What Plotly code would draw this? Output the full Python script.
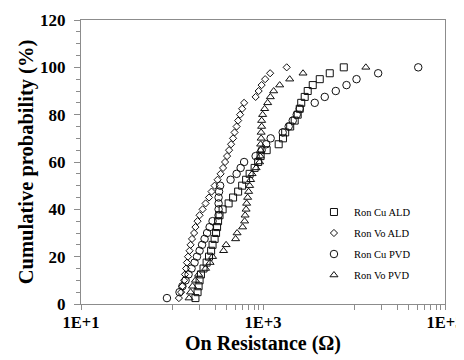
import plotly.graph_objects as go

# Cumulative probability levels (%)
prob = [2.5, 5, 7.5, 10, 12.5, 15, 17.5, 20, 22.5, 25,
        27.5, 30, 32.5, 35, 37.5, 40, 42.5, 45, 47.5, 50,
        52.5, 55, 57.5, 60, 62.5, 65, 67.5, 70, 72.5, 75,
        77.5, 80, 82.5, 85, 87.5, 90, 92.5, 95, 97.5, 100]

# On resistance (ohm) per series, sorted
ron_cu_ald = [181, 191, 196, 201, 208, 222, 240, 255, 269, 279,
              294, 305, 313, 321, 333, 360, 419, 469, 533, 590,
              652, 713, 809, 884, 942, 1097, 1487, 1658, 1753, 1990,
              2230, 2406, 2532, 2630, 2873, 3100, 3520, 4204, 5416, 7722]
ron_vo_ald = [119, 126, 130, 136, 139, 143, 146, 150, 156, 160,
              166, 175, 181, 191, 201, 217, 234, 255, 272, 294,
              317, 342, 364, 383, 403, 424, 446, 469, 487, 513,
              533, 560, 590, 620, 830, 896, 966, 1056, 1198, 1821]
ron_cu_pvd = [88, 121, 130, 141, 152, 164, 177, 188, 201, 214,
              228, 243, 259, 279, 325, 325, 325, 325, 329, 338,
              440, 513, 568, 620, 830, 966, 1083, 1214, 1646, 1916,
              2121, 2347, 2532, 3703, 4771, 6305, 8272, 10658, 18435, 50808]
ron_vo_pvd = [154, 160, 168, 181, 196, 234, 262, 279, 369, 393,
              500, 519, 597, 628, 636, 652, 661, 678, 695, 713,
              731, 759, 840, 918, 930, 942, 942, 954, 954, 966,
              966, 991, 1043, 1125, 1204, 1310, 1525, 1965, 2753, 13493]

series = [
    ("Ron Cu ALD", ron_cu_ald, "square-open", 7),
    ("Ron Vo ALD", ron_vo_ald, "diamond-open", 5.5),
    ("Ron Cu PVD", ron_cu_pvd, "circle-open", 7.5),
    ("Ron Vo PVD", ron_vo_pvd, "triangle-up-open", 7),
]

fig = go.Figure()
for name, vals, sym, sz in series:
    fig.add_trace(go.Scatter(
        x=vals, y=prob, mode="markers", name=name,
        legendgroup=name,
        marker=dict(symbol=sym, size=sz, color="#111111",
                    line=dict(width=1, color="#111111")),
    ))

serif = "Liberation Serif, Times New Roman, serif"
axis_color = "#8c8c8c"

# the page body adds an 8px offset; size and margins compensate so the
# figure fills the 464x360 window and the plot box lands at x 81..445, y 20..304
fig.update_layout(
    width=456, height=352,
    margin=dict(l=73, r=19, t=12, b=56),
    paper_bgcolor="white", plot_bgcolor="white",
    font=dict(family=serif, color="black"),
    showlegend=True,
    legend=dict(
        x=0.64, y=0.375, xanchor="left", yanchor="top",
        bgcolor="rgba(0,0,0,0)", borderwidth=0,
        font=dict(family=serif, size=10.5, color="black"),
        tracegroupgap=2, itemwidth=30,
    ),
    xaxis=dict(
        type="log", range=[1, 5], automargin=False,
        tickmode="array", tickvals=[10, 1000, 100000],
        ticktext=["1E+1", "1E+3", "1E+5"],
        ticks="outside", ticklen=5, tickcolor=axis_color, tickwidth=1,
        showline=True, linecolor=axis_color, linewidth=1, mirror=True,
        showgrid=False, zeroline=False,
        ticklabelstandoff=-2, ticklabeloverflow="allow",
        tickfont=dict(family=serif, size=16.5, color="black", weight="bold"),
        title=dict(text="On Resistance (Ω)", standoff=5,
                   font=dict(family=serif, size=20, color="black", weight="bold")),
        minor=dict(tickmode="array",
                   tickvals=[100, 200, 300, 400, 500, 600, 700, 800, 900,
                             10000, 20000, 30000, 40000, 50000, 60000, 70000, 80000, 90000],
                   ticks="outside", ticklen=5, tickcolor=axis_color, showgrid=False),
    ),
    yaxis=dict(
        range=[0, 120], tickmode="linear", tick0=0, dtick=20, automargin=False,
        ticks="outside", ticklen=6, tickcolor=axis_color, tickwidth=1,
        showline=True, linecolor=axis_color, linewidth=1, mirror=True,
        showgrid=False, zeroline=False,
        ticklabelstandoff=5,
        tickfont=dict(family=serif, size=17, color="black", weight="bold"),
        title=dict(text="Cumulative probability (%)", standoff=0,
                   font=dict(family=serif, size=20.5, color="black", weight="bold")),
        minor=dict(dtick=5, ticks="outside", ticklen=4, tickcolor=axis_color, showgrid=False),
    ),
)

fig.write_html("out.html")
